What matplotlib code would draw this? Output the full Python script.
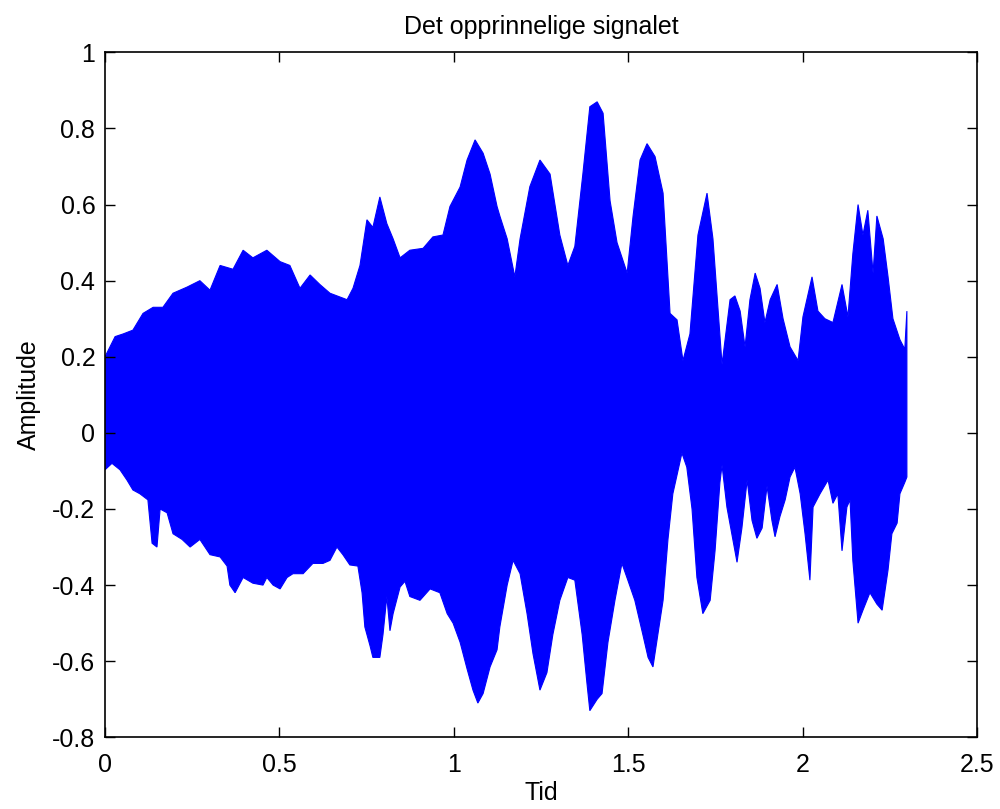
import matplotlib
matplotlib.use("Agg")
import matplotlib.pyplot as plt
import numpy as np

# Upper envelope of the waveform (time [s], amplitude)
t_upper = [0.000, 0.029, 0.052, 0.080, 0.109, 0.138, 0.166, 0.195, 0.235, 0.272,
           0.301, 0.330, 0.367, 0.396, 0.424, 0.464, 0.502, 0.530, 0.559, 0.588,
           0.616, 0.645, 0.694, 0.711, 0.731, 0.751, 0.768, 0.788, 0.808, 0.826,
           0.846, 0.874, 0.912, 0.940, 0.969, 0.989, 1.018, 1.038, 1.061, 1.084,
           1.104, 1.124, 1.132, 1.153, 1.175, 1.190, 1.218, 1.247, 1.276, 1.304,
           1.327, 1.347, 1.370, 1.390, 1.411, 1.428, 1.448, 1.468, 1.497, 1.514,
           1.534, 1.554, 1.577, 1.600, 1.620, 1.640, 1.657, 1.677, 1.700, 1.726,
           1.743, 1.769, 1.792, 1.806, 1.821, 1.835, 1.849, 1.864, 1.878, 1.892,
           1.907, 1.927, 1.944, 1.964, 1.987, 2.001, 2.027, 2.044, 2.064, 2.087,
           2.113, 2.130, 2.144, 2.159, 2.173, 2.187, 2.202, 2.213, 2.231, 2.245,
           2.259, 2.279, 2.293, 2.299]
v_upper = [0.20, 0.253, 0.26, 0.27, 0.314, 0.33, 0.33, 0.367, 0.383, 0.40,
           0.375, 0.44, 0.43, 0.48, 0.46, 0.48, 0.45, 0.44, 0.38, 0.415,
           0.39, 0.367, 0.35, 0.38, 0.44, 0.56, 0.54, 0.62, 0.55, 0.51,
           0.46, 0.48, 0.485, 0.515, 0.52, 0.595, 0.646, 0.717, 0.77, 0.735,
           0.68, 0.595, 0.57, 0.51, 0.41, 0.51, 0.647, 0.717, 0.68, 0.52,
           0.44, 0.49, 0.68, 0.857, 0.87, 0.84, 0.61, 0.50, 0.42, 0.57,
           0.717, 0.76, 0.726, 0.63, 0.314, 0.297, 0.19, 0.26, 0.52, 0.63,
           0.51, 0.18, 0.35, 0.36, 0.32, 0.226, 0.35, 0.42, 0.38, 0.29,
           0.35, 0.39, 0.30, 0.226, 0.19, 0.305, 0.41, 0.32, 0.30, 0.29,
           0.39, 0.305, 0.47, 0.60, 0.52, 0.585, 0.42, 0.57, 0.51, 0.41,
           0.30, 0.245, 0.22, 0.32]

# Lower envelope of the waveform (time [s], amplitude)
t_lower = [0.000, 0.020, 0.043, 0.063, 0.080, 0.100, 0.123, 0.135, 0.149, 0.158,
           0.178, 0.195, 0.221, 0.244, 0.272, 0.301, 0.330, 0.350, 0.358, 0.373,
           0.396, 0.424, 0.453, 0.464, 0.482, 0.502, 0.522, 0.539, 0.568, 0.596,
           0.625, 0.645, 0.665, 0.682, 0.702, 0.725, 0.737, 0.745, 0.760, 0.768,
           0.788, 0.797, 0.808, 0.817, 0.826, 0.846, 0.860, 0.874, 0.903, 0.932,
           0.960, 0.981, 0.998, 1.018, 1.038, 1.055, 1.069, 1.084, 1.104, 1.124,
           1.132, 1.153, 1.170, 1.190, 1.210, 1.227, 1.247, 1.267, 1.284, 1.304,
           1.327, 1.347, 1.368, 1.382, 1.390, 1.411, 1.425, 1.442, 1.462, 1.482,
           1.499, 1.519, 1.542, 1.557, 1.571, 1.585, 1.600, 1.614, 1.628, 1.654,
           1.668, 1.683, 1.697, 1.714, 1.735, 1.749, 1.763, 1.769, 1.783, 1.800,
           1.812, 1.826, 1.841, 1.855, 1.869, 1.884, 1.898, 1.912, 1.921, 1.935,
           1.950, 1.964, 1.978, 1.993, 2.007, 2.021, 2.030, 2.050, 2.073, 2.087,
           2.101, 2.113, 2.127, 2.136, 2.144, 2.159, 2.173, 2.193, 2.213, 2.228,
           2.245, 2.256, 2.271, 2.279, 2.293, 2.299]
v_lower = [-0.097, -0.08, -0.097, -0.124, -0.15, -0.16, -0.176, -0.29, -0.30, -0.20,
           -0.21, -0.265, -0.28, -0.30, -0.28, -0.32, -0.326, -0.35, -0.40, -0.42,
           -0.38, -0.395, -0.40, -0.38, -0.40, -0.41, -0.38, -0.37, -0.37, -0.343,
           -0.343, -0.335, -0.30, -0.32, -0.347, -0.35, -0.42, -0.51, -0.56, -0.59,
           -0.59, -0.53, -0.43, -0.52, -0.475, -0.405, -0.39, -0.43, -0.44, -0.41,
           -0.42, -0.475, -0.50, -0.55, -0.62, -0.676, -0.71, -0.685, -0.615, -0.57,
           -0.51, -0.40, -0.335, -0.37, -0.475, -0.58, -0.676, -0.63, -0.53, -0.44,
           -0.38, -0.387, -0.53, -0.66, -0.73, -0.70, -0.685, -0.55, -0.44, -0.343,
           -0.387, -0.44, -0.53, -0.59, -0.615, -0.53, -0.44, -0.28, -0.16, -0.053,
           -0.09, -0.20, -0.38, -0.475, -0.44, -0.31, -0.13, -0.085, -0.195, -0.28,
           -0.34, -0.25, -0.124, -0.23, -0.277, -0.25, -0.14, -0.23, -0.273, -0.22,
           -0.176, -0.116, -0.09, -0.16, -0.265, -0.387, -0.195, -0.16, -0.124, -0.185,
           -0.16, -0.31, -0.195, -0.176, -0.335, -0.50, -0.466, -0.42, -0.45, -0.466,
           -0.36, -0.265, -0.237, -0.16, -0.13, -0.116]

title = "Det opprinnelige signalet"
xlabel = "Tid"
ylabel = "Amplitude"
xticks = [0, 0.5, 1, 1.5, 2, 2.5]
xticklabels = ["0", "0.5", "1", "1.5", "2", "2.5"]
yticks = [-0.8, -0.6, -0.4, -0.2, 0, 0.2, 0.4, 0.6, 0.8, 1]
yticklabels = ["-0.8", "-0.6", "-0.4", "-0.2", "0", "0.2", "0.4", "0.6", "0.8", "1"]

plt.rcParams['font.family'] = ['Liberation Sans', 'DejaVu Sans']

fig = plt.figure(figsize=(10, 8.09), dpi=100)
ax = fig.add_axes([0.105, 0.0886, 0.872, 0.8467])

poly_t = list(t_upper) + list(t_lower[::-1])
poly_v = list(v_upper) + list(v_lower[::-1])
ax.fill(poly_t, poly_v, color=(0, 0, 1), linewidth=0.8, edgecolor=(0, 0, 1))

ax.set_xlim(0, 2.5)
ax.set_ylim(-0.8, 1)
ax.set_xticks(xticks)
ax.set_xticklabels(xticklabels)
ax.set_yticks(yticks)
ax.set_yticklabels(yticklabels)
ax.tick_params(direction='in', top=True, right=True, length=7, width=1,
               labelsize=18, pad=7)
ax.tick_params(axis='x', pad=11)
for s in ax.spines.values():
    s.set_linewidth(1.2)

ax.set_title(title, fontsize=18, pad=13)
ax.set_xlabel(xlabel, fontsize=18, labelpad=3)
ax.set_ylabel(ylabel, fontsize=18, labelpad=8)

fig.savefig("out.png", dpi=100)
